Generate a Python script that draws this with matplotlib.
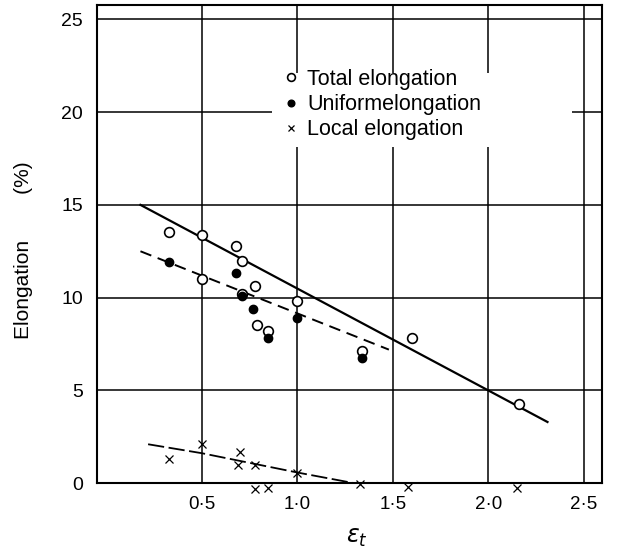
import matplotlib
matplotlib.use("Agg")
import matplotlib.pyplot as plt
from matplotlib.patches import Rectangle

plt.rcParams['font.family'] = ['Liberation Sans', 'DejaVu Sans']
plt.rcParams['mathtext.fontset'] = 'dejavusans'

# total elongation (open circles)
total_x = [0.33, 0.50, 0.68, 0.71, 0.50, 0.78, 0.71, 0.79, 0.85, 1.00, 1.34, 1.60, 2.16]
total_y = [13.55, 13.4, 12.8, 12.0, 11.0, 10.65, 10.2, 8.5, 8.2, 9.8, 7.1, 7.8, 4.25]

# uniform elongation (filled circles)
uniform_x = [0.33, 0.68, 0.71, 0.77, 0.85, 1.00, 1.34]
uniform_y = [11.9, 11.35, 10.1, 9.4, 7.8, 8.9, 6.75]

# local elongation (crosses)
local_x = [0.33, 0.50, 0.70, 0.69, 0.78, 1.00, 1.33, 0.78, 0.85, 1.58, 2.15]
local_y = [1.3, 2.1, 1.7, 1.0, 1.0, 0.55, -0.05, -0.3, -0.28, -0.2, -0.25]

# fitted lines
total_fit_x = [0.18, 2.31]
total_fit_y = [15.0, 3.3]
uniform_fit_x = [0.18, 1.48]
uniform_fit_y = [12.5, 7.2]
local_fit_x = [0.22, 0.50, 0.75, 1.00, 1.30]
local_fit_y = [2.1, 1.62, 1.1, 0.58, 0.0]

x_ticks = [0.5, 1.0, 1.5, 2.0, 2.5]
x_tick_labels = ['0·5', '1·0', '1·5', '2·0', '2·5']
y_ticks = [0, 5, 10, 15, 20, 25]

fig, ax = plt.subplots(figsize=(6.21, 5.58), dpi=100)
fig.subplots_adjust(left=0.156, right=0.969, bottom=0.134, top=0.991)

# grid
for xv in x_ticks:
    ax.axvline(xv, color='black', lw=1.1, zorder=1)
for yv in y_ticks[1:]:
    ax.axhline(yv, color='black', lw=1.1, zorder=1)

# white area behind the legend interrupts the grid
ax.add_patch(Rectangle((0.87, 18.1), 1.57, 4.0, facecolor='white',
                       edgecolor='none', zorder=2))

ax.plot(total_fit_x, total_fit_y, color='black', lw=1.6, zorder=3)
ax.plot(uniform_fit_x, uniform_fit_y, color='black', lw=1.4,
        dashes=(6, 3.5), zorder=3)
ax.plot(local_fit_x, local_fit_y, color='black', lw=1.3,
        dashes=(9, 2.5), zorder=3)

h1, = ax.plot(total_x, total_y, 'o', mfc='white', mec='black', ms=7,
              mew=1.2, ls='none', zorder=4, clip_on=False,
              label='Total elongation')
h2, = ax.plot(uniform_x, uniform_y, 'o', mfc='black', mec='black', ms=6,
              ls='none', zorder=5, clip_on=False,
              label='Uniformelongation')
h3, = ax.plot(local_x, local_y, 'x', color='black', ms=5.5, mew=0.9,
              ls='none', zorder=4, clip_on=False,
              label='Local elongation')

leg = ax.legend(handles=[h1, h2, h3], loc='center left',
                bbox_to_anchor=(0.94, 20.4), bbox_transform=ax.transData,
                frameon=False, fontsize=15.5, handlelength=0.5,
                handletextpad=0.5, labelspacing=0.2, borderpad=0,
                borderaxespad=0, markerscale=0.8)
leg.set_zorder(6)

ax.set_xlim(-0.048, 2.594)
ax.set_ylim(0, 25.77)
ax.set_xticks(x_ticks)
ax.set_xticklabels(x_tick_labels)
ax.set_yticks(y_ticks)
ax.tick_params(axis='x', length=0, pad=9.5, labelsize=13.5)
ax.tick_params(axis='y', length=0, pad=10, labelsize=14)

for sp in ax.spines.values():
    sp.set_linewidth(1.5)

ax.set_ylabel('Elongation        (%)', fontsize=15)
ax.yaxis.set_label_coords(-0.127, 0.487)
ax.set_xlabel(r'$\varepsilon_t$', fontsize=17)
ax.xaxis.set_label_coords(0.515, -0.092)

fig.savefig('out.png', dpi=100)
